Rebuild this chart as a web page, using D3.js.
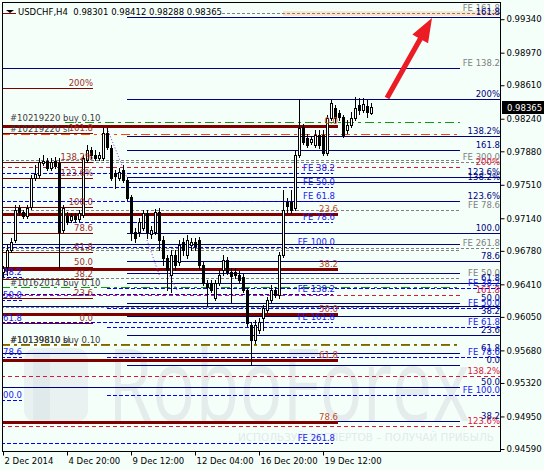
<!DOCTYPE html>
<html><head><meta charset="utf-8">
<script src="https://cdn.jsdelivr.net/npm/d3@7"></script>
<style>body{margin:0;background:#f5fffa}svg{display:block}text{font-family:"DejaVu Sans",sans-serif}</style>
</head><body><svg id="c" width="544" height="470"></svg>
<script>
// ---------- DATA ----------
const symbolTitle = "USDCHF,H4  0.98301 0.98412 0.98288 0.98365";
const barOpen = [0.96546,0.96601,0.96789,0.96900,0.97253,0.97209,0.97165,0.97264,0.97585,0.97618,
0.97751,0.97773,0.97695,0.97773,0.97751,0.97010,0.97165,0.97121,0.97165,0.97132,
0.97176,0.97784,0.97894,0.97839,0.97806,0.97806,0.98082,0.97917,0.97640,0.97585,
0.97673,0.97563,0.97375,0.96988,0.96988,0.97032,0.97198,0.96966,0.96988,0.97209,
0.96900,0.96701,0.96513,0.96734,0.96657,0.96878,0.96734,0.96845,0.96878,0.96900,
0.96624,0.96425,0.96425,0.96259,0.96425,0.96568,0.96679,0.96546,0.96546,0.96513,
0.96491,0.96347,0.95960,0.95795,0.95905,0.96038,0.96126,0.96237,0.96347,0.96292,
0.96734,0.97320,0.97320,0.97253,0.97839,0.98148,0.98027,0.97983,0.97950,0.98060,
0.98060,0.97861,0.98248,0.98359,0.98303,0.98259,0.98115,0.98171,0.98248,0.98392,
0.98336,0.98381,0.98301];
const barHigh = [0.96612,0.96845,0.96922,0.97287,0.97287,0.97231,0.97287,0.97618,0.97729,0.97806,
0.97839,0.97806,0.97806,0.97817,0.97806,0.97287,0.97209,0.97198,0.97198,0.97231,
0.97839,0.97950,0.97928,0.97894,0.97872,0.98137,0.98137,0.97950,0.97673,0.97695,
0.97729,0.97585,0.97397,0.97032,0.97143,0.97231,0.97231,0.97054,0.97242,0.97253,
0.96944,0.96734,0.96789,0.96789,0.96900,0.96922,0.96955,0.96922,0.96922,0.96933,
0.96657,0.96458,0.96458,0.96458,0.96568,0.96734,0.96712,0.96590,0.96590,0.96557,
0.96524,0.96369,0.95994,0.96016,0.96038,0.96181,0.96270,0.96402,0.96380,0.96767,
0.97452,0.97364,0.97452,0.97894,0.98458,0.98182,0.98071,0.98049,0.98115,0.98115,
0.98115,0.98281,0.98447,0.98392,0.98336,0.98281,0.98226,0.98314,0.98480,0.98469,
0.98469,0.98447,0.98412];
const barLow = [0.96502,0.96513,0.96767,0.96878,0.97176,0.97143,0.97143,0.97242,0.97563,0.97596,
0.97729,0.97673,0.97673,0.97695,0.96590,0.96988,0.97077,0.97099,0.97099,0.97110,
0.97154,0.97762,0.97806,0.97784,0.97784,0.97784,0.97905,0.97563,0.97474,0.97563,
0.97541,0.97342,0.96900,0.96878,0.96944,0.97010,0.96922,0.96922,0.96966,0.96789,
0.96624,0.96347,0.96325,0.96568,0.96624,0.96734,0.96701,0.96789,0.96789,0.96590,
0.96402,0.96181,0.96325,0.96237,0.96402,0.96513,0.96524,0.96215,0.96480,0.96425,
0.96325,0.95949,0.95518,0.95762,0.95872,0.95905,0.96104,0.96215,0.96270,0.96259,
0.96712,0.97209,0.97198,0.97231,0.97817,0.97961,0.97928,0.97961,0.97928,0.97917,
0.97839,0.97839,0.98226,0.98204,0.98226,0.98038,0.98082,0.98148,0.98226,0.98292,
0.98314,0.98259,0.98288];
const barClose = [0.96590,0.96789,0.96878,0.97231,0.97209,0.97165,0.97253,0.97585,0.97629,0.97762,
0.97773,0.97695,0.97762,0.97717,0.96988,0.97253,0.97099,0.97165,0.97132,0.97198,
0.97806,0.97894,0.97839,0.97806,0.97839,0.98082,0.97928,0.97585,0.97607,0.97651,
0.97563,0.97364,0.96977,0.96922,0.97099,0.97198,0.96988,0.97010,0.97209,0.96900,
0.96701,0.96568,0.96734,0.96624,0.96845,0.96789,0.96900,0.96878,0.96834,0.96624,
0.96425,0.96380,0.96347,0.96425,0.96513,0.96679,0.96546,0.96502,0.96513,0.96458,
0.96347,0.95983,0.95795,0.95960,0.95994,0.96148,0.96237,0.96347,0.96292,0.96734,
0.97231,0.97276,0.97231,0.97839,0.98137,0.97983,0.97950,0.98016,0.98060,0.97950,
0.97861,0.98248,0.98414,0.98248,0.98259,0.98060,0.98171,0.98248,0.98359,0.98336,
0.98403,0.98314,0.98365];
const lastPrice = 0.98365;

const timeTickBars = [0,16,32,48,64,80];
const timeTickLabels = ["2 Dec 2014","4 Dec 20:00","9 Dec 12:00","12 Dec 04:00","16 Dec 20:00","19 Dec 12:00"];
const priceTicks = [0.99340,0.98970,0.98610,0.98240,0.97880,0.97510,0.97140,0.96780,0.96410,0.96050,0.95680,0.95320,0.94950,0.94590];

// Fibonacci / level objects (prices + labels)
const greyTopPrices = [0.99408];            const greyTopLabels = ["FE 161.8"];
const greyFePrices = [0.98801,0.97789,0.97231,0.96789,0.96480,0.96163];
const greyFeLabels = ["FE 138.2","","FE 78.6","","FE 50.0",""];
const greyFe2Prices = [0.97767,0.96811];   const greyFe2Labels = ["FE 300.0","FE 261.8"];
const crimsonUpPrices = [0.97707,0.96292]; const crimsonUpLabels = ["200%","161.8"];
const crimsonLoPrices = [0.95397,0.94846]; const crimsonLoLabels = ["138.2%","123.6%"];
const blueMidPrices = [0.97644,0.97485,0.97329,0.97104,0.96818,0.96307,0.95994,0.94656];
const blueMidLabels = ["FE 38.2","FE 50.0","FE 61.8","FE 78.6","FE 100.0","FE 138.2","FE 161.8","FE 261.8"];
const blueRightPrices = [0.96369,0.96148,0.95938,0.95607,0.95187];
const blueRightLabels = ["FE 38.2","FE 50.0","FE 61.8","FE 78.6","FE 100.0"];
const blueLeftPrices = [0.96491,0.96237,0.95983,0.95607,0.95132];
const blueLeftLabels = ["38.2","50.0","61.8","78.6","100.0"];
const navyLongPrices = [0.99364,0.98458,0.98049,0.97596,0.97541,0.96977,0.96668,0.96425,0.96060,0.95850];
const navyLongLabels = ["161.8","200%","138.2%","123.6%","138.2%","100.0","78.6","61.8","38.2","23.6"];
const navyMidPrices = [0.97894,0.97331,0.96535,0.96204,0.95518];
const navyMidLabels = ["161.8","123.6%","","50.0","0.0"];
const navyWidePrices = [0.98801,0.96856,0.95651,0.95275,0.94900];
const navyWideLabels = ["","","61.8","50.0","38.2"];
const navyFullPrices = [0.96170];          const navyFullLabels = [""];
const redLeftPrices = [0.98580,0.98082,0.97762,0.97585,0.97264,0.96977,0.96767,0.96601,0.96469,0.96259,0.95983];
const redLeftLabels = ["200%","161.8","138.2%","123.6%","100.0","78.6","61.8","50.0","38.2","23.6","0.0"];
const redThickPrices = [0.98165,0.97184,0.96579,0.96082,0.95574,0.94888];
const redThickLabels = ["0.0","23.6","38.2","50.0","61.8","78.6"];
const buyTopPrices = [0.98209];            const buyTopLabels = ["#10219220 buy 0.10"];
const buyLowPrices = [0.96384,0.95751];    const buyLowLabels = ["#10162014 buy 0.10","#10139810 buy 0.10"];
const slPrices = [0.98082,0.95745];        const slLabels = ["#10219220 sl","#10139810 sl"];
const targetZone = {bar:70, top:0.99430, bottom:0.99375};
const arrowFrom = {bar:96, price:0.98469};
const arrowTo = {bar:107.25, price:0.99353};
const zigzagSegments = [
  [[26,0.98137],[31,0.97585]],
  [[36,0.96900],[39.25,0.96491]],
  [[41.25,0.96535],[43.5,0.96347]]
];

// ---------- LAYOUT ----------
const W=544,H=470,L=2,T=2,R=501,B=452;
const x = d3.scaleLinear().domain([0,92]).range([3,371]);
const y = d3.scaleLinear().domain([0.94557,0.99530]).range([B,T]);
const RIGHT = x.invert(R), LEFT = x.invert(L-1);
const FONT = 8.5;

const svg = d3.select("#c");
svg.append("rect").attr("width",W).attr("height",H).attr("fill","#f5fffa");
svg.append("defs").append("clipPath").attr("id","pc").append("rect")
  .attr("x",L+1).attr("y",T+1).attr("width",R-L-1).attr("height",B-T-1);
const plot = svg.append("g").attr("clip-path","url(#pc)");

// watermark
const wm = plot.append("g");
wm.append("rect").attr("x",24).attr("y",348).attr("width",64).attr("height",74).attr("rx",12).attr("fill","#e9f1f1");
wm.append("rect").attr("x",33).attr("y",352).attr("width",17).attr("height",68).attr("fill","#e0eaea");
wm.append("text").attr("x",108).attr("y",421).attr("font-size",100).attr("textLength",362)
  .attr("lengthAdjust","spacingAndGlyphs").attr("fill","#e4ecec").style("font-family","'Open Sans',sans-serif").text("RoboForex");
wm.append("text").attr("x",238).attr("y",441).attr("font-size",11).attr("textLength",256)
  .attr("lengthAdjust","spacingAndGlyphs").attr("fill","#e2eaea").text("ИСПОЛЬЗУЙ ЭКСПЕРТОВ – ПОЛУЧАЙ ПРИБЫЛЬ");

// target zone
plot.append("rect").attr("x",x(targetZone.bar)).attr("y",y(targetZone.top))
  .attr("width",R-x(targetZone.bar)).attr("height",y(targetZone.bottom)-y(targetZone.top)).attr("fill","#fde4cc");

const crisp = v => Math.round(v)+0.5;
const groups = [
 {p:greyTopPrices,l:greyTopLabels,from:54.75,to:RIGHT,stroke:"#808080",w:1,dash:"3,2",lc:"#808080",la:124.25},
 {p:greyFePrices,l:greyFeLabels,from:LEFT,to:114.25,stroke:"#808080",w:1,dash:"3,2",lc:"#808080",la:124.25},
 {p:greyFe2Prices,l:greyFe2Labels,from:LEFT,to:RIGHT,stroke:"#808080",w:1,dash:"3,2",lc:"#808080",la:124.25},
 {p:crimsonUpPrices,l:crimsonUpLabels,from:LEFT,to:114.25,stroke:"#e0143c",w:1,dash:"4,3",lc:"#e0143c",la:124.25},
 {p:crimsonLoPrices,l:crimsonLoLabels,from:LEFT,to:RIGHT,stroke:"#e0143c",w:1,dash:"4,3",lc:"#e0143c",la:124.25},
 {p:navyLongPrices,l:navyLongLabels,from:31,to:RIGHT,stroke:"#000080",w:1,dash:null,lc:"#000080",la:124.25},
 {p:navyMidPrices,l:navyMidLabels,from:31,to:114.25,stroke:"#000080",w:1,dash:null,lc:"#000080",la:124.25},
 {p:navyWidePrices,l:navyWideLabels,from:LEFT,to:114.25,stroke:"#000080",w:1,dash:null,lc:"#000080",la:124.25},
 {p:navyFullPrices,l:navyFullLabels,from:LEFT,to:RIGHT,stroke:"#000080",w:1,dash:null,lc:"#000080",la:124.25},
 {p:blueMidPrices,l:blueMidLabels,from:LEFT,to:82.5,stroke:"#0000ff",w:1,dash:"4,2",lc:"#1a1af0",la:83},
 {p:blueRightPrices,l:blueRightLabels,from:26,to:RIGHT,stroke:"#0000ff",w:1,dash:"4,2",lc:"#1a1af0",la:124.25},
 {p:blueLeftPrices,l:blueLeftLabels,from:LEFT,to:4.75,stroke:"#0000ff",w:1,dash:"4,2",lc:"#1a1af0",la:4.75},
 {p:redLeftPrices,l:redLeftLabels,from:LEFT,to:22.5,stroke:"#800000",w:1,dash:null,lc:"#a0302a",la:22.5},
 {p:redThickPrices,l:redThickLabels,from:LEFT,to:83.75,stroke:"#800000",w:3,dash:null,lc:"#c04a28",la:83.75},
 {p:buyTopPrices,l:null,from:15.5,to:114.25,stroke:"#119911",w:1,dash:"9,4,3,4"},
 {p:buyLowPrices,l:null,from:LEFT,to:114.25,stroke:"#119911",w:1,dash:"9,4,3,4"},
 {p:slPrices,l:null,from:LEFT,to:114.25,stroke:"#ff4500",w:1,dash:"9,4,3,4",off:1}
];
const gl = plot.append("g");
groups.forEach(g=>{
  gl.selectAll(null).data(g.p).enter().append("line")
    .attr("x1",x(g.from)).attr("x2",x(g.to))
    .attr("y1",d=>crisp(y(d))+(g.off||0)).attr("y2",d=>crisp(y(d))+(g.off||0))
    .attr("stroke",g.stroke).attr("stroke-width",g.w).attr("stroke-dasharray",g.dash);
});

// zigzag dotted
const zz = d3.line().x(d=>x(d[0])).y(d=>y(d[1]));
plot.selectAll(null).data(zigzagSegments).enter().append("path").attr("d",zz)
  .attr("fill","none").attr("stroke","#8a2be2").attr("stroke-width",1).attr("stroke-dasharray","1,2");

// candles
const bars = d3.range(barOpen.length).map(i=>({i,o:barOpen[i],h:barHigh[i],l:barLow[i],c:barClose[i]}));
const cg = plot.append("g");
cg.selectAll(null).data(bars).enter().append("line")
  .attr("x1",d=>Math.round(x(d.i))+0.5).attr("x2",d=>Math.round(x(d.i))+0.5)
  .attr("y1",d=>Math.round(y(d.h))).attr("y2",d=>Math.round(y(d.l))+1)
  .attr("stroke","#000").attr("stroke-width",1);
cg.selectAll(null).data(bars).enter().append("rect")
  .attr("x",d=>Math.round(x(d.i))-0.5).attr("width",2)
  .attr("y",d=>Math.round(y(Math.max(d.o,d.c)))+0.5)
  .attr("height",d=>Math.max(0,Math.round(y(Math.min(d.o,d.c)))-Math.round(y(Math.max(d.o,d.c)))))
  .attr("fill",d=>d.c>=d.o?"#ffffff":"#000000").attr("stroke","#000").attr("stroke-width",1);

// labels
const tl = plot.append("g").attr("font-size",FONT);
groups.filter(g=>g.l).forEach(g=>{
  tl.selectAll(null).data(g.p.map((p,k)=>({p,t:g.l[k]})).filter(d=>d.t)).enter().append("text")
    .attr("x",x(g.la)).attr("y",d=>Math.round(y(d.p))-2).attr("text-anchor","end")
    .attr("fill",g.lc).text(d=>d.t);
});
const orderTexts = [
  ...buyTopPrices.map((p,k)=>({p,t:buyTopLabels[k]})),
  ...buyLowPrices.map((p,k)=>({p,t:buyLowLabels[k]})),
  ...slPrices.map((p,k)=>({p,t:slLabels[k]}))
];
tl.selectAll(null).data(orderTexts).enter().append("text")
  .attr("x",x(1.75)).attr("y",d=>Math.round(y(d.p))-1).attr("fill","#3a3a3a").text(d=>d.t);

// red arrow
(function(){
  const x0=x(arrowFrom.bar), y0=y(arrowFrom.price), x1=x(arrowTo.bar), y1=y(arrowTo.price);
  const dx=x1-x0, dy=y1-y0, len=Math.hypot(dx,dy), ux=dx/len, uy=dy/len, px=-uy, py=ux;
  const hl=24, hw=9, sw=2.6;
  const bx=x1-ux*hl, by=y1-uy*hl;
  const pts=[[x0+px*sw,y0+py*sw],[bx+px*sw,by+py*sw],[bx+px*hw,by+py*hw],[x1,y1],
             [bx-px*hw,by-py*hw],[bx-px*sw,by-py*sw],[x0-px*sw,y0-py*sw]];
  plot.append("path").attr("d","M"+pts.map(p=>p.join(",")).join("L")+"Z").attr("fill","#ec1c24");
})();

// header
const hd = svg.append("g");
hd.append("line").attr("x1",3).attr("x2",16).attr("y1",13.5).attr("y2",13.5).attr("stroke","#8b0000");
hd.append("path").attr("d","M6,10L14,10L10,13Z").attr("fill","#000");
hd.append("text").attr("x",18).attr("y",15).attr("font-size",FONT).attr("fill","#000").attr("xml:space","preserve")
  .style("white-space","pre").text(symbolTitle);

// frame
svg.append("rect").attr("x",L+0.5).attr("y",T+0.5).attr("width",R-L-1).attr("height",B-T-1)
  .attr("fill","none").attr("stroke","#000");

// axes
const ya = svg.append("g").attr("transform",`translate(${R-0.5},0)`)
  .call(d3.axisRight(y).tickValues(priceTicks).tickFormat(d3.format(".5f")).tickSize(4).tickPadding(2));
ya.select(".domain").remove();
ya.selectAll("line").attr("stroke","#000");
ya.selectAll("text").attr("font-size",FONT).attr("fill","#000").style("font-family","'DejaVu Sans',sans-serif");

const xa = svg.append("g").attr("transform",`translate(0,${B-0.5})`)
  .call(d3.axisBottom(x).tickValues(timeTickBars).tickFormat((d,k)=>timeTickLabels[k]).tickSize(4).tickPadding(2));
xa.select(".domain").remove();
xa.selectAll("line").attr("stroke","#000");
xa.selectAll("text").attr("font-size",FONT).attr("fill","#000").attr("text-anchor","start").attr("x",1)
  .style("font-family","'DejaVu Sans',sans-serif");

// last price box
const yl = y(lastPrice);
svg.append("rect").attr("x",502).attr("y",Math.round(yl)-6).attr("width",42).attr("height",13).attr("fill","#000");
svg.append("text").attr("x",507).attr("y",Math.round(yl)+3.5).attr("font-size",FONT).attr("fill","#fff").text(d3.format(".5f")(lastPrice));
</script></body></html>
